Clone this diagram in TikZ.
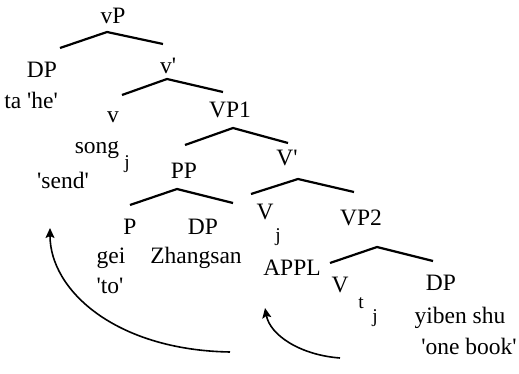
\documentclass[tikz,border=0pt]{standalone}
\usepackage{fontspec}
\setmainfont{Liberation Serif}[Ligatures=TeXOff]
\usetikzlibrary{arrows.meta}
\begin{document}
\begin{tikzpicture}[x=1pt,y=-1pt,
  lab/.style={inner sep=0pt,font=\fontsize{23.5}{27}\selectfont},
  sub/.style={inner sep=0pt,font=\fontsize{19.5}{22}\selectfont},
  branch/.style={line width=2.2pt,line join=miter},
  move/.style={line width=1.6pt,-{Stealth[length=10pt,width=9pt,inset=2pt]}}]
\useasboundingbox (0,0) rectangle (519,374);
% labels
\node[lab] (vP) at (113,16) {vP};
\node[lab] (DP1) at (42,70) {DP};
\node[lab] (ta) at (31,100) {ta 'he'};
\node[lab] (vbar) at (168,66) {v'};
\node[lab] (v) at (113,117) {v};
\node[lab] (VP1) at (230,110) {VP1};
\node[lab] (song) at (97,150) {song};
\node[sub] (j1) at (127,164) {j};
\node[lab] (send) at (63,180) {'send'};
\node[lab] (PP) at (184,171) {PP};
\node[lab] (Vbar) at (287,158) {V'};
\node[lab] (P) at (130,227) {P};
\node[lab] (DP2) at (203,227) {DP};
\node[lab] (gei) at (111,258) {gei};
\node[lab] (Zh) at (196,258) {Zhangsan};
\node[lab] (to) at (110,286) {'to'};
\node[lab] (Vj) at (265,212) {V};
\node[sub] (j2) at (278,237) {j};
\node[lab] (VP2) at (361,218) {VP2};
\node[lab] (APPL) at (292,268) {APPL};
\node[lab] (Vt) at (340,285) {V};
\node[sub] (t) at (361,303) {t};
\node[sub] (j3) at (375,318) {j};
\node[lab] (DP3) at (441,283) {DP};
\node[lab] (yiben) at (460,318) {yiben shu};
\node[lab] (book) at (469,346) {'one book'};
% branch points
\coordinate (a1) at (107,32); \coordinate (l1) at (60,48); \coordinate (r1) at (163,44);
\coordinate (a2) at (167,79); \coordinate (l2) at (122,95); \coordinate (r2) at (223,92);
\coordinate (a3) at (233,128); \coordinate (l3) at (185,145); \coordinate (r3) at (288,143);
\coordinate (a4) at (177,189); \coordinate (l4) at (130,205); \coordinate (r4) at (233,203);
\coordinate (a5) at (298,179); \coordinate (l5) at (251,194); \coordinate (r5) at (354,192);
\coordinate (a6) at (377,247); \coordinate (l6) at (330,263); \coordinate (r6) at (433,261);
\draw[branch] (l1) -- (a1) -- (r1);
\draw[branch] (l2) -- (a2) -- (r2);
\draw[branch] (l3) -- (a3) -- (r3);
\draw[branch] (l4) -- (a4) -- (r4);
\draw[branch] (l5) -- (a5) -- (r5);
\draw[branch] (l6) -- (a6) -- (r6);
% movement arrows
\coordinate (m1s) at (230,352); \coordinate (m1e) at (50,228);
\coordinate (m2s) at (340,358); \coordinate (m2e) at (265,308);
\draw[move] (m1s) .. controls (115,350) and (50,290) .. (m1e);
\draw[move] (m2s) .. controls (300,355) and (270,335) .. (m2e);
\end{tikzpicture}
\end{document}
